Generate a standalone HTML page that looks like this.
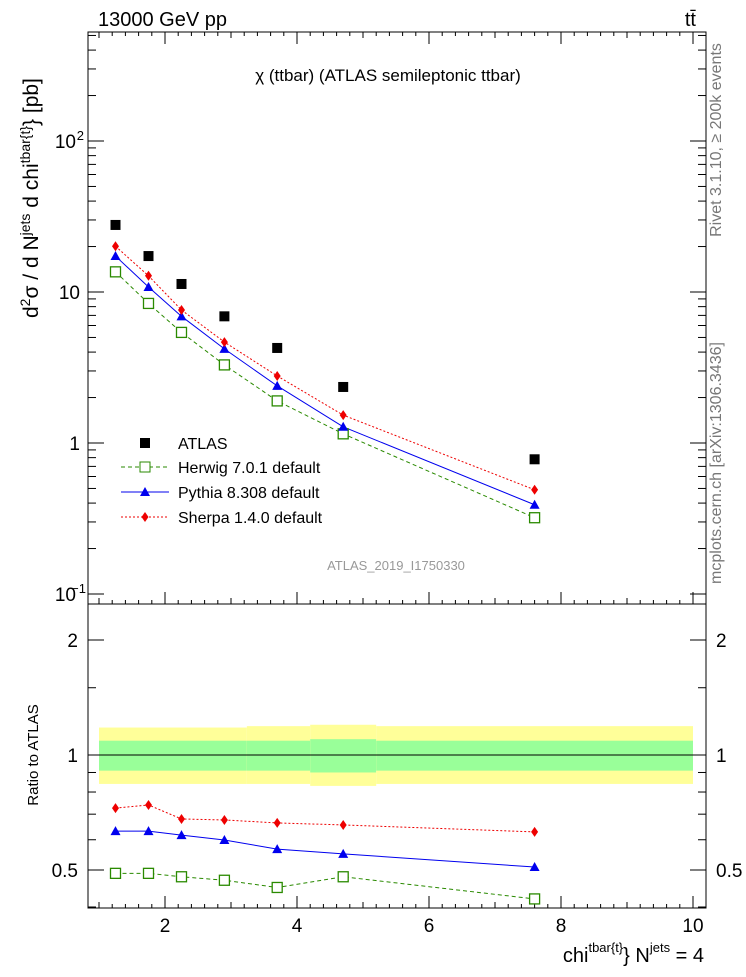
<!DOCTYPE html>
<html><head><meta charset="utf-8"><style>
body{margin:0;background:#fff;font-family:"Liberation Sans",sans-serif}
svg text{font-family:"Liberation Sans","DejaVu Sans",sans-serif}
</style></head><body>
<svg id="c" width="746" height="972" xmlns="http://www.w3.org/2000/svg">
<g id="g"></g>
<text x="98" y="26" font-size="20">13000 GeV pp</text>
<text x="696" y="26" font-size="20" text-anchor="end">tt̄</text>
<text x="388" y="81" font-size="17" text-anchor="middle">χ (ttbar) (ATLAS semileptonic ttbar)</text>
<text x="396" y="570" font-size="13" fill="#999" text-anchor="middle">ATLAS_2019_I1750330</text>
<text transform="translate(721,140) rotate(-90)" font-size="16" fill="#777" text-anchor="middle">Rivet 3.1.10, ≥ 200k events</text>
<text transform="translate(721,463) rotate(-90)" font-size="16" fill="#777" text-anchor="middle">mcplots.cern.ch [arXiv:1306.3436]</text>
<text transform="translate(38,318) rotate(-90)" font-size="21">d<tspan font-size="14" dy="-8">2</tspan><tspan dy="8">σ / d N</tspan><tspan font-size="14" dy="-8">jets</tspan><tspan dy="8"> d chi</tspan><tspan font-size="14" dy="-8">tbar{t}</tspan><tspan dy="8">} [pb]</tspan></text>
<text transform="translate(38,755) rotate(-90)" font-size="15" text-anchor="middle">Ratio to ATLAS</text>
<text x="704" y="962" font-size="20" text-anchor="end">chi<tspan font-size="13" dy="-10">tbar{t}</tspan><tspan dy="10">} N</tspan><tspan font-size="13" dy="-10">jets</tspan><tspan dy="10"> = 4</tspan></text>
</svg>
<script>
const xs=[1.25,1.75,2.25,2.9,3.7,4.7,7.6];
const atlas=[27.8,17.3,11.3,6.9,4.26,2.35,0.78];
const herwig=[13.6,8.4,5.4,3.29,1.9,1.15,0.32];
const pythia=[17.3,10.8,6.9,4.2,2.39,1.28,0.39];
const sherpa=[20.1,12.8,7.6,4.66,2.78,1.53,0.49];
const rHerwig=[0.49,0.49,0.48,0.47,0.45,0.48,0.42];
const rPythia=[0.632,0.632,0.617,0.599,0.567,0.551,0.509];
const rSherpa=[0.726,0.74,0.68,0.676,0.664,0.656,0.629];
const binEdges=[1,3.24,4.2,5.2,10];
const yelLo=[0.84,0.84,0.83,0.84];const yelHi=[1.18,1.19,1.2,1.19];
const grnLo=[0.91,0.91,0.9,0.91];const grnHi=[1.09,1.09,1.1,1.09];
const xTicks=[2,4,6,8,10];
const NS='http://www.w3.org/2000/svg';const g=document.getElementById('g');
const L=88,R=706,T=32,MB=604,RB=908;
const X=v=>33+v*66;
const Y=v=>443-Math.log10(v)*151;
const YR=v=>755-Math.log10(v)*382;
function el(t,a,txt){const e=document.createElementNS(NS,t);for(const k in a)e.setAttribute(k,a[k]);if(txt!==undefined)e.textContent=txt;g.appendChild(e);return e;}
for(let i=0;i<binEdges.length-1;i++){
 let e=el('rect',{x:X(binEdges[i]),y:YR(yelHi[i]),width:X(binEdges[i+1])-X(binEdges[i]),height:YR(yelLo[i])-YR(yelHi[i]),fill:'#ffff99'});
 
 e=el('rect',{x:X(binEdges[i]),y:YR(grnHi[i]),width:X(binEdges[i+1])-X(binEdges[i]),height:YR(grnLo[i])-YR(grnHi[i]),fill:'#99ff99'});
 
}
el('line',{x1:X(1),x2:X(10),y1:YR(1),y2:YR(1),stroke:'#000','stroke-width':1});
el('rect',{x:L,y:T,width:R-L,height:MB-T,fill:'none',stroke:'#000'});
el('rect',{x:L,y:MB,width:R-L,height:RB-MB,fill:'none',stroke:'#000'});
for(let v=1;v<=10.2;v+=0.2){const big=Math.abs(v-Math.round(v))<0.01&&Math.round(v)%2==0;const med=Math.abs(v-Math.round(v))<0.01;
 const l=big?12:(med?6:4);if(X(v)<L||X(v)>R)continue;
 for(const yb of [MB,RB]){el('line',{x1:X(v),x2:X(v),y1:yb,y2:yb-l,stroke:'#000'});}
 el('line',{x1:X(v),x2:X(v),y1:T,y2:T+l,stroke:'#000'});
}
xTicks.forEach(v=>{const e=el('text',{x:X(v),y:932,'font-size':19,'text-anchor':'middle'},v);});
for(let d=-1;d<=2;d++)for(let m=1;m<10;m++){const v=m*Math.pow(10,d);const y=Y(v);if(y<T||y>MB)continue;const l=m==1?16:8;
 el('line',{x1:L,x2:L+l,y1:y,y2:y,stroke:'#000'});el('line',{x1:R,x2:R-l,y1:y,y2:y,stroke:'#000'});}
[['10',Y(100),'2'],['10',Y(10),''],['1',Y(1),''],['10',Y(0.1),'−1']].forEach(([b,y,s])=>{el('text',{x:s?76:80,y:y+7,'font-size':19,'text-anchor':'end'},b);
 if(s){el('text',{x:s=='2'?84:86,y:y-1,'font-size':13,'text-anchor':'end'},s);}});
for(const v of [0.4,0.5,0.6,0.7,0.8,0.9,1,1.5,2]){const y=YR(v);if(y<MB||y>RB)continue;const l=(v==0.5||v==1||v==2)?16:8;
 el('line',{x1:L,x2:L+l,y1:y,y2:y,stroke:'#000'});el('line',{x1:R,x2:R-l,y1:y,y2:y,stroke:'#000'});}
[[2,'2'],[1,'1'],[0.5,'0.5']].forEach(([v,s])=>{el('text',{x:78,y:YR(v)+7,'font-size':19,'text-anchor':'end'},s);el('text',{x:716,y:YR(v)+7,'font-size':19},s);});
function line(vals,fy,col,dash,name){const p=xs.map((x,i)=>X(x)+','+fy(vals[i])).join(' ');const e=el('polyline',{points:p,fill:'none',stroke:col,'stroke-dasharray':dash});}
function marks(vals,fy,type,name){xs.forEach((x,i)=>{const cx=X(x),cy=fy(vals[i]);let e;
 if(type=='sq')e=el('rect',{x:cx-5,y:cy-5,width:10,height:10,fill:'#000'});
 else if(type=='osq')e=el('rect',{x:cx-5,y:cy-5,width:10,height:10,fill:'#fff',stroke:'#2a8a00','stroke-width':1.3});
 else if(type=='tri')e=el('polygon',{points:`${cx},${cy-5} ${cx-5},${cy+4} ${cx+5},${cy+4}`,fill:'#0000ee'});
 else e=el('polygon',{points:`${cx},${cy-5} ${cx-3.5},${cy} ${cx},${cy+5} ${cx+3.5},${cy}`,fill:'#ee0000'});
 });}
line(herwig,Y,'#2a8a00','4,3','herwig-line');line(pythia,Y,'#0000ee','','pythia-line');line(sherpa,Y,'#ee0000','2,2','sherpa-line');
marks(herwig,Y,'osq','herwig-point');marks(pythia,Y,'tri','pythia-point');marks(sherpa,Y,'dia','sherpa-point');marks(atlas,Y,'sq','atlas-point');
line(rHerwig,YR,'#2a8a00','4,3','herwig-ratio-line');line(rPythia,YR,'#0000ee','','pythia-ratio-line');line(rSherpa,YR,'#ee0000','2,2','sherpa-ratio-line');
marks(rHerwig,YR,'osq','herwig-ratio-point');marks(rPythia,YR,'tri','pythia-ratio-point');marks(rSherpa,YR,'dia','sherpa-ratio-point');
function leg(y,col,dash,type,txt){if(col)el('line',{x1:121,x2:169,y1:y,y2:y,stroke:col,'stroke-dasharray':dash});
 const cx=145,cy=y;let e;
 if(type=='sq')el('rect',{x:cx-5,y:cy-5,width:10,height:10,fill:'#000'});
 else if(type=='osq')el('rect',{x:cx-5,y:cy-5,width:10,height:10,fill:'#fff',stroke:'#2a8a00'});
 else if(type=='tri')el('polygon',{points:`${cx},${cy-5} ${cx-5},${cy+4} ${cx+5},${cy+4}`,fill:'#0000ee'});
 else el('polygon',{points:`${cx},${cy-5} ${cx-3.5},${cy} ${cx},${cy+5} ${cx+3.5},${cy}`,fill:'#ee0000'});
 e=el('text',{x:178,y:y+6,'font-size':16},txt);}
leg(443,null,'','sq','ATLAS');leg(467,'#2a8a00','4,3','osq','Herwig 7.0.1 default');leg(492,'#0000ee','','tri','Pythia 8.308 default');leg(517,'#ee0000','2,2','dia','Sherpa 1.4.0 default');
</script>
</body></html>
